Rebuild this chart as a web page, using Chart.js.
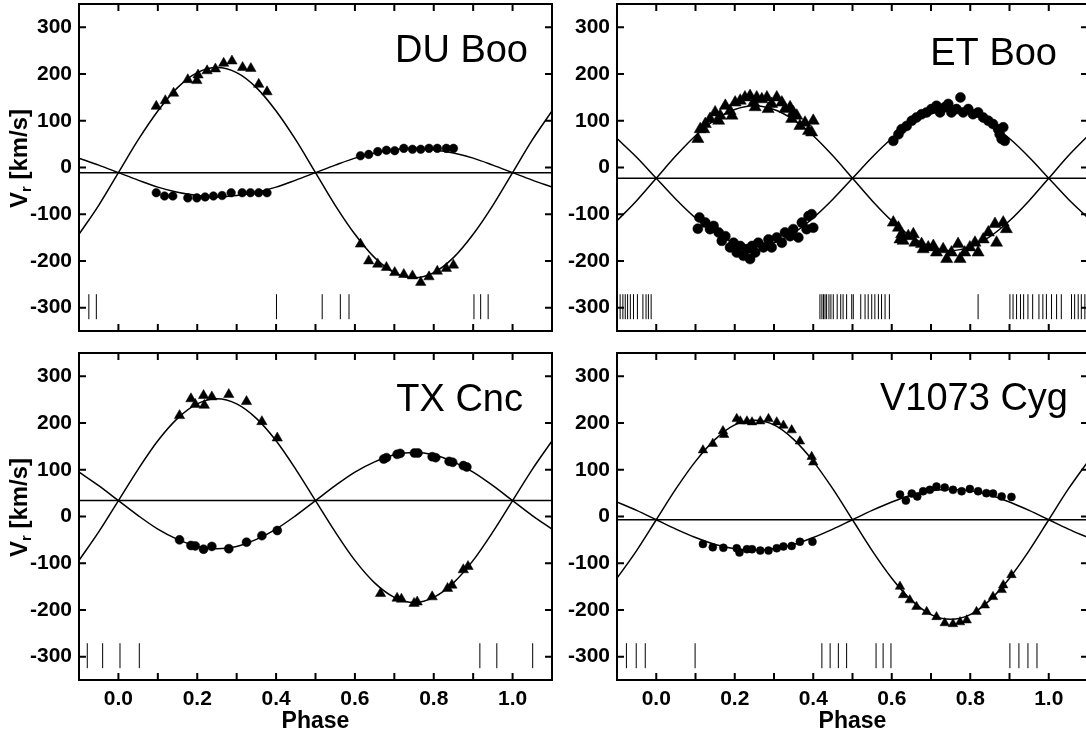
<!DOCTYPE html>
<html>
<head>
<meta charset="utf-8">
<title>Radial velocity curves</title>
<script src="https://cdn.jsdelivr.net/npm/chart.js@4.4.1/dist/chart.umd.min.js"></script>
<style>
  html, body { margin: 0; padding: 0; background: #fff; overflow: hidden; }
  body { width: 1086px; height: 733px; position: relative; }
  canvas { position: absolute; }
</style>
</head>
<body>
<canvas id="duBoo" width="556" height="345" style="left:0px;top:0px"></canvas>
<canvas id="etBoo" width="540" height="345" style="left:556px;top:0px"></canvas>
<canvas id="txCnc" width="556" height="388" style="left:0px;top:345px"></canvas>
<canvas id="v1073Cyg" width="540" height="388" style="left:556px;top:345px"></canvas>
<script>
// axes
const yTickValues = [-300, -200, -100, 0, 100, 200, 300];
const xTickValues = [0.0, 0.2, 0.4, 0.6, 0.8, 1.0];
const xMinorTicks = [0.0, 0.1, 0.2, 0.3, 0.4, 0.5, 0.6, 0.7, 0.8, 0.9, 1.0];
const curvePhase = [-0.1, -0.05, 0, 0.05, 0.1, 0.15, 0.2, 0.25, 0.3, 0.35, 0.4, 0.45, 0.5,
    0.55, 0.6, 0.65, 0.7, 0.75, 0.8, 0.85, 0.9, 0.95, 1.0, 1.05, 1.1];
const obsLevel = -298;

// DU Boo
const duBooGamma = -11;
const duBooPrimaryFit = [-143, -81, -11, 59, 121, 171, 203, 214, 203, 171, 121, 59, -11,
    -81, -143, -193, -225, -236, -225, -193, -143, -81, -11, 59, 121];
const duBooSecondaryFit = [20, 5, -11, -27, -42, -53, -60, -63, -60, -53, -42, -27, -11,
    5, 20, 31, 38, 41, 38, 31, 20, 5, -11, -27, -42];
const duBooPrimaryPhase = [0.096, 0.119, 0.140, 0.176, 0.199, 0.202, 0.225, 0.246, 0.267, 0.288, 0.315, 0.336, 0.356, 0.377,
    0.614, 0.635, 0.658, 0.680, 0.701, 0.724, 0.746, 0.767, 0.788, 0.809, 0.832, 0.850];
const duBooPrimaryRv = [131, 143, 159, 188, 186, 198, 207, 211, 223, 228, 214, 212, 178, 162,
    -164, -200, -207, -214, -225, -229, -232, -246, -234, -222, -216, -209];
const duBooSecondaryPhase = [0.096, 0.117, 0.138, 0.176, 0.199, 0.220, 0.241, 0.263, 0.286, 0.314, 0.335, 0.356, 0.377,
    0.614, 0.635, 0.658, 0.680, 0.701, 0.724, 0.746, 0.767, 0.788, 0.809, 0.832, 0.850];
const duBooSecondaryRv = [-54, -61, -61, -65, -65, -63, -61, -60, -54, -54, -54, -54, -54,
    25, 28, 34, 37, 36, 41, 39, 39, 41, 41, 41, 41];
const duBooObsPhase = [-0.075, -0.056, 0.401, 0.517, 0.563, 0.585, 0.902, 0.919, 0.938];

// ET Boo
const etBooGamma = -23;
const etBooPrimaryFit = [-114, -71, -23, 25, 68, 102, 124, 132, 124, 102, 68, 25, -23,
    -71, -114, -148, -170, -178, -170, -148, -114, -71, -23, 25, 68];
const etBooSecondaryFit = [62, 22, -23, -68, -108, -140, -161, -168, -161, -140, -108, -68, -23,
    22, 62, 94, 115, 122, 115, 94, 62, 22, -23, -68, -108];
const etBooPrimaryPhase = [0.106, 0.112, 0.121, 0.125, 0.137, 0.150, 0.159, 0.163, 0.176, 0.188, 0.193, 0.201,
    0.214, 0.226, 0.239, 0.248, 0.252, 0.256, 0.269, 0.282, 0.285, 0.294, 0.307, 0.320, 0.328, 0.341, 0.345,
    0.349, 0.358, 0.366, 0.379, 0.388, 0.396, 0.400,
    0.604, 0.617, 0.621, 0.625, 0.629, 0.642, 0.655, 0.659, 0.676, 0.680, 0.693, 0.706, 0.714, 0.731,
    0.740, 0.752, 0.769, 0.774, 0.786, 0.799, 0.812, 0.820, 0.833, 0.846, 0.863, 0.867, 0.884, 0.892];
const etBooPrimaryRv = [61, 82, 82, 93, 104, 118, 100, 111, 132, 121, 111, 139,
    143, 150, 153, 139, 129, 150, 146, 150, 125, 136, 150, 139, 125, 129, 104,
    118, 111, 89, 96, 78, 75, 100,
    -118, -129, -154, -143, -157, -147, -143, -161, -164, -175, -171, -168, -182, -175,
    -196, -182, -164, -196, -182, -171, -161, -182, -154, -139, -121, -161, -118, -132];
const etBooSecondaryPhase = [0.106, 0.110, 0.125, 0.137, 0.146, 0.159, 0.167, 0.176, 0.188, 0.197, 0.205, 0.214,
    0.222, 0.231, 0.239, 0.244, 0.252, 0.260, 0.273, 0.286, 0.294, 0.307, 0.320, 0.328, 0.341, 0.349,
    0.362, 0.371, 0.383, 0.388, 0.396, 0.400,
    0.604, 0.617, 0.625, 0.638, 0.651, 0.663, 0.676, 0.689, 0.701, 0.714, 0.723, 0.735, 0.744, 0.752,
    0.765, 0.775, 0.782, 0.795, 0.807, 0.820, 0.833, 0.846, 0.858, 0.871, 0.875, 0.880, 0.884, 0.888];
const etBooSecondaryRv = [-131, -107, -118, -132, -125, -139, -157, -147, -171, -161, -182, -168,
    -189, -175, -196, -168, -182, -161, -171, -154, -171, -150, -161, -139, -147, -132,
    -150, -118, -132, -104, -100, -129,
    57, 71, 82, 89, 100, 107, 114, 118, 125, 132, 118, 129, 136, 118,
    125, 150, 118, 125, 114, 118, 107, 100, 93, 82, 71, 61, 86, 57];
const etBooObsPhase = [-0.092, -0.085, -0.079, -0.073, -0.066, -0.058, -0.048, -0.034, -0.026, -0.020, -0.013,
    0.417, 0.422, 0.426, 0.430, 0.434, 0.440, 0.445, 0.451, 0.461, 0.470, 0.476, 0.485, 0.498, 0.502,
    0.521, 0.532, 0.540, 0.549, 0.557, 0.566, 0.574, 0.583, 0.594, 0.820,
    0.901, 0.909, 0.918, 0.928, 0.936, 0.947, 0.959, 0.975, 0.985, 0.994, 1.007, 1.020, 1.032,
    1.058, 1.066, 1.075, 1.083, 1.092];

// TX Cnc
const txCncGamma = 34;
const txCncPrimaryFit = [-94, -33, 34, 101, 162, 210, 241, 252, 241, 210, 162, 101, 34,
    -33, -94, -142, -173, -184, -173, -142, -94, -33, 34, 101, 162];
const txCncSecondaryFit = [95, 66, 34, 2, -27, -49, -64, -69, -64, -49, -27, 2, 34,
    66, 95, 117, 132, 137, 132, 117, 95, 66, 34, 2, -27];
const txCncPrimaryPhase = [0.155, 0.184, 0.195, 0.216, 0.218, 0.237, 0.280, 0.325, 0.364, 0.403,
    0.665, 0.707, 0.718, 0.750, 0.758, 0.796, 0.835, 0.846, 0.875, 0.887];
const txCncPrimaryRv = [216, 252, 240, 259, 238, 256, 261, 246, 203, 168,
    -165, -175, -177, -186, -183, -172, -154, -147, -114, -107];
const txCncSecondaryPhase = [0.155, 0.184, 0.195, 0.216, 0.237, 0.280, 0.325, 0.364, 0.403,
    0.673, 0.680, 0.707, 0.715, 0.751, 0.760, 0.796, 0.805, 0.839, 0.848, 0.875, 0.884];
const txCncSecondaryRv = [-50, -62, -63, -70, -64, -69, -55, -41, -30,
    123, 126, 133, 135, 136, 136, 128, 126, 118, 116, 109, 106];
const txCncObsPhase = [-0.079, -0.040, 0.004, 0.053, 0.917, 0.960, 1.051];

// V1073 Cyg
const v1073CygGamma = -7;
const v1073CygPrimaryFit = [-132, -73, -7, 59, 118, 165, 196, 206, 196, 165, 118, 59, -7,
    -73, -132, -179, -210, -220, -210, -179, -132, -73, -7, 59, 118];
const v1073CygSecondaryFit = [31, 13, -7, -27, -45, -60, -69, -72, -69, -60, -45, -27, -7,
    13, 31, 46, 55, 58, 55, 46, 31, 13, -7, -27, -45];
const v1073CygPrimaryPhase = [0.119, 0.144, 0.170, 0.173, 0.205, 0.214, 0.231, 0.244, 0.265, 0.286, 0.307,
    0.324, 0.345, 0.366, 0.396, 0.400,
    0.621, 0.629, 0.646, 0.663, 0.689, 0.714, 0.735, 0.756, 0.774, 0.791, 0.816, 0.837, 0.858, 0.880, 0.884, 0.905];
const v1073CygPrimaryRv = [142, 156, 183, 175, 209, 204, 204, 202, 204, 209, 202,
    195, 185, 161, 128, 116,
    -150, -168, -179, -193, -204, -215, -228, -230, -226, -222, -204, -190, -172, -157, -147, -125];
const v1073CygSecondaryPhase = [0.119, 0.144, 0.171, 0.205, 0.212, 0.231, 0.244, 0.265, 0.286, 0.307, 0.324,
    0.345, 0.366, 0.398,
    0.621, 0.636, 0.651, 0.665, 0.680, 0.697, 0.714, 0.735, 0.756, 0.778, 0.799, 0.820, 0.841, 0.858, 0.880, 0.905];
const v1073CygSecondaryRv = [-59, -66, -67, -68, -77, -70, -70, -73, -73, -68, -64,
    -63, -54, -54,
    47, 34, 49, 43, 54, 57, 64, 62, 57, 54, 59, 54, 50, 49, 43, 42];
const v1073CygObsPhase = [-0.076, -0.051, -0.028, 0.099, 0.422, 0.443, 0.464, 0.485,
    0.560, 0.578, 0.598, 0.901, 0.924, 0.947, 0.970];

const FONT = '"Liberation Sans", Arial, Helvetica, sans-serif';
const TICK_LEN = 7;

function toPoints(xs, ys) {
    return xs.map((x, i) => ({ x: x, y: ys[i] }));
}

// frame with inside ticks, star name and y title
const framePlugin = {
    id: 'frame',
    afterDraw(chart, args, opts) {
        const { ctx, chartArea } = chart;
        const { left, right, top, bottom } = chartArea;
        const x = chart.scales.x, y = chart.scales.y;
        ctx.save();
        ctx.strokeStyle = '#000';
        ctx.lineWidth = 2;
        ctx.strokeRect(left, top, right - left, bottom - top);
        ctx.beginPath();
        xMinorTicks.forEach(v => {
            const px = x.getPixelForValue(v);
            ctx.moveTo(px, bottom); ctx.lineTo(px, bottom - TICK_LEN);
            ctx.moveTo(px, top); ctx.lineTo(px, top + TICK_LEN);
        });
        yTickValues.forEach(v => {
            const py = y.getPixelForValue(v);
            ctx.moveTo(left, py); ctx.lineTo(left + TICK_LEN, py);
            ctx.moveTo(right, py); ctx.lineTo(right - TICK_LEN, py);
        });
        ctx.stroke();

        ctx.fillStyle = '#000';
        ctx.font = '38px ' + FONT;
        ctx.textAlign = 'right';
        ctx.textBaseline = 'alphabetic';
        ctx.fillText(opts.name, right - opts.nameDx, top + opts.nameDy);

        if (opts.yTitle) {
            ctx.translate(27, (top + bottom) / 2 - 9);
            ctx.rotate(-Math.PI / 2);
            const big = 'bold 24px ' + FONT, small = 'bold 15px ' + FONT;
            ctx.font = big; const wV = ctx.measureText('V').width;
            const wRest = ctx.measureText(' [km/s]').width;
            ctx.font = small; const wr = ctx.measureText('r').width;
            let cx = -(wV + wr + wRest) / 2;
            ctx.textAlign = 'left';
            ctx.font = big; ctx.fillText('V', cx, 0); cx += wV;
            ctx.font = small; ctx.fillText('r', cx, 4); cx += wr;
            ctx.font = big; ctx.fillText(' [km/s]', cx, 0);
        }
        ctx.restore();
    }
};

function makePanel(id, p) {
    const lineStyle = { showLine: true, borderColor: '#000', borderWidth: 1.5, pointRadius: 0 };
    const datasets = [
        Object.assign({ data: [{ x: -0.1, y: p.gamma }, { x: 1.1, y: p.gamma }] }, lineStyle),
        Object.assign({ data: toPoints(curvePhase, p.primaryFit), cubicInterpolationMode: 'monotone' }, lineStyle),
        Object.assign({ data: toPoints(curvePhase, p.secondaryFit), cubicInterpolationMode: 'monotone' }, lineStyle),
        {
            data: toPoints(p.primaryPhase, p.primaryRv),
            pointStyle: 'triangle', pointRadius: p.triSize,
            pointBackgroundColor: '#000', pointBorderColor: '#000', pointBorderWidth: 0.5
        },
        {
            data: toPoints(p.secondaryPhase, p.secondaryRv),
            pointStyle: 'circle', pointRadius: p.dotSize,
            pointBackgroundColor: '#000', pointBorderColor: '#000', pointBorderWidth: 0.5
        },
        {
            data: p.obsPhase.map(v => ({ x: v, y: obsLevel })),
            pointStyle: 'line', pointRotation: 90, pointRadius: 12.5,
            pointBorderColor: '#000', pointBorderWidth: 1
        }
    ];

    new Chart(document.getElementById(id), {
        type: 'scatter',
        data: { datasets: datasets },
        plugins: [framePlugin],
        options: {
            responsive: false,
            animation: false,
            events: [],
            layout: { autoPadding: false, padding: { top: p.padTop, right: p.padRight, left: 0, bottom: 0 } },
            plugins: {
                legend: { display: false },
                tooltip: { enabled: false },
                frame: { name: p.name, nameDx: p.nameDx, nameDy: p.nameDy, yTitle: p.yTitle }
            },
            scales: {
                x: {
                    type: 'linear', min: -0.1, max: 1.1,
                    grid: { display: false, drawTicks: false },
                    border: { display: false },
                    afterBuildTicks: s => { s.ticks = xTickValues.map(v => ({ value: v })); },
                    afterFit: s => {
                        s.height = p.xHeight;
                        s.paddingLeft = 0; s.paddingRight = 0; s.paddingTop = 0; s.paddingBottom = 0;
                    },
                    ticks: {
                        display: p.bottom, autoSkip: false, maxRotation: 0, padding: 7, color: '#000',
                        font: { family: FONT, size: 21, weight: 'bold' },
                        callback: v => v.toFixed(1)
                    },
                    title: {
                        display: p.bottom, text: 'Phase', color: '#000',
                        font: { family: FONT, size: 23, weight: 'bold', lineHeight: 1.0 },
                        padding: { top: 0, bottom: 0 }
                    }
                },
                y: {
                    type: 'linear', min: -350, max: 350,
                    grid: { display: false, drawTicks: false },
                    border: { display: false },
                    afterBuildTicks: s => { s.ticks = yTickValues.map(v => ({ value: v })); },
                    afterFit: s => {
                        s.width = p.yWidth;
                        s.paddingLeft = 0; s.paddingRight = 0; s.paddingTop = 0; s.paddingBottom = 0;
                    },
                    ticks: {
                        padding: 7, color: '#000',
                        font: { family: FONT, size: 21, weight: 'bold' },
                        callback: v => String(v)
                    }
                }
            }
        }
    });
}

makePanel('duBoo', {
    name: 'DU Boo', nameDx: 24, nameDy: 58, yTitle: true, bottom: false,
    yWidth: 79, xHeight: 14, padTop: 4, padRight: 4, triSize: 6, dotSize: 4.3,
    gamma: duBooGamma, primaryFit: duBooPrimaryFit, secondaryFit: duBooSecondaryFit,
    primaryPhase: duBooPrimaryPhase, primaryRv: duBooPrimaryRv,
    secondaryPhase: duBooSecondaryPhase, secondaryRv: duBooSecondaryRv, obsPhase: duBooObsPhase
});
makePanel('etBoo', {
    name: 'ET Boo', nameDx: 31, nameDy: 61, yTitle: false, bottom: false,
    yWidth: 61, xHeight: 14, padTop: 4, padRight: 8, triSize: 7, dotSize: 5,
    gamma: etBooGamma, primaryFit: etBooPrimaryFit, secondaryFit: etBooSecondaryFit,
    primaryPhase: etBooPrimaryPhase, primaryRv: etBooPrimaryRv,
    secondaryPhase: etBooSecondaryPhase, secondaryRv: etBooSecondaryRv, obsPhase: etBooObsPhase
});
makePanel('txCnc', {
    name: 'TX Cnc', nameDx: 29, nameDy: 58, yTitle: true, bottom: true,
    yWidth: 79, xHeight: 53, padTop: 8, padRight: 4, triSize: 6, dotSize: 4.5,
    gamma: txCncGamma, primaryFit: txCncPrimaryFit, secondaryFit: txCncSecondaryFit,
    primaryPhase: txCncPrimaryPhase, primaryRv: txCncPrimaryRv,
    secondaryPhase: txCncSecondaryPhase, secondaryRv: txCncSecondaryRv, obsPhase: txCncObsPhase
});
makePanel('v1073Cyg', {
    name: 'V1073 Cyg', nameDx: 20, nameDy: 57, yTitle: false, bottom: true,
    yWidth: 61, xHeight: 53, padTop: 8, padRight: 8, triSize: 5.5, dotSize: 4,
    gamma: v1073CygGamma, primaryFit: v1073CygPrimaryFit, secondaryFit: v1073CygSecondaryFit,
    primaryPhase: v1073CygPrimaryPhase, primaryRv: v1073CygPrimaryRv,
    secondaryPhase: v1073CygSecondaryPhase, secondaryRv: v1073CygSecondaryRv, obsPhase: v1073CygObsPhase
});
</script>
</body>
</html>
